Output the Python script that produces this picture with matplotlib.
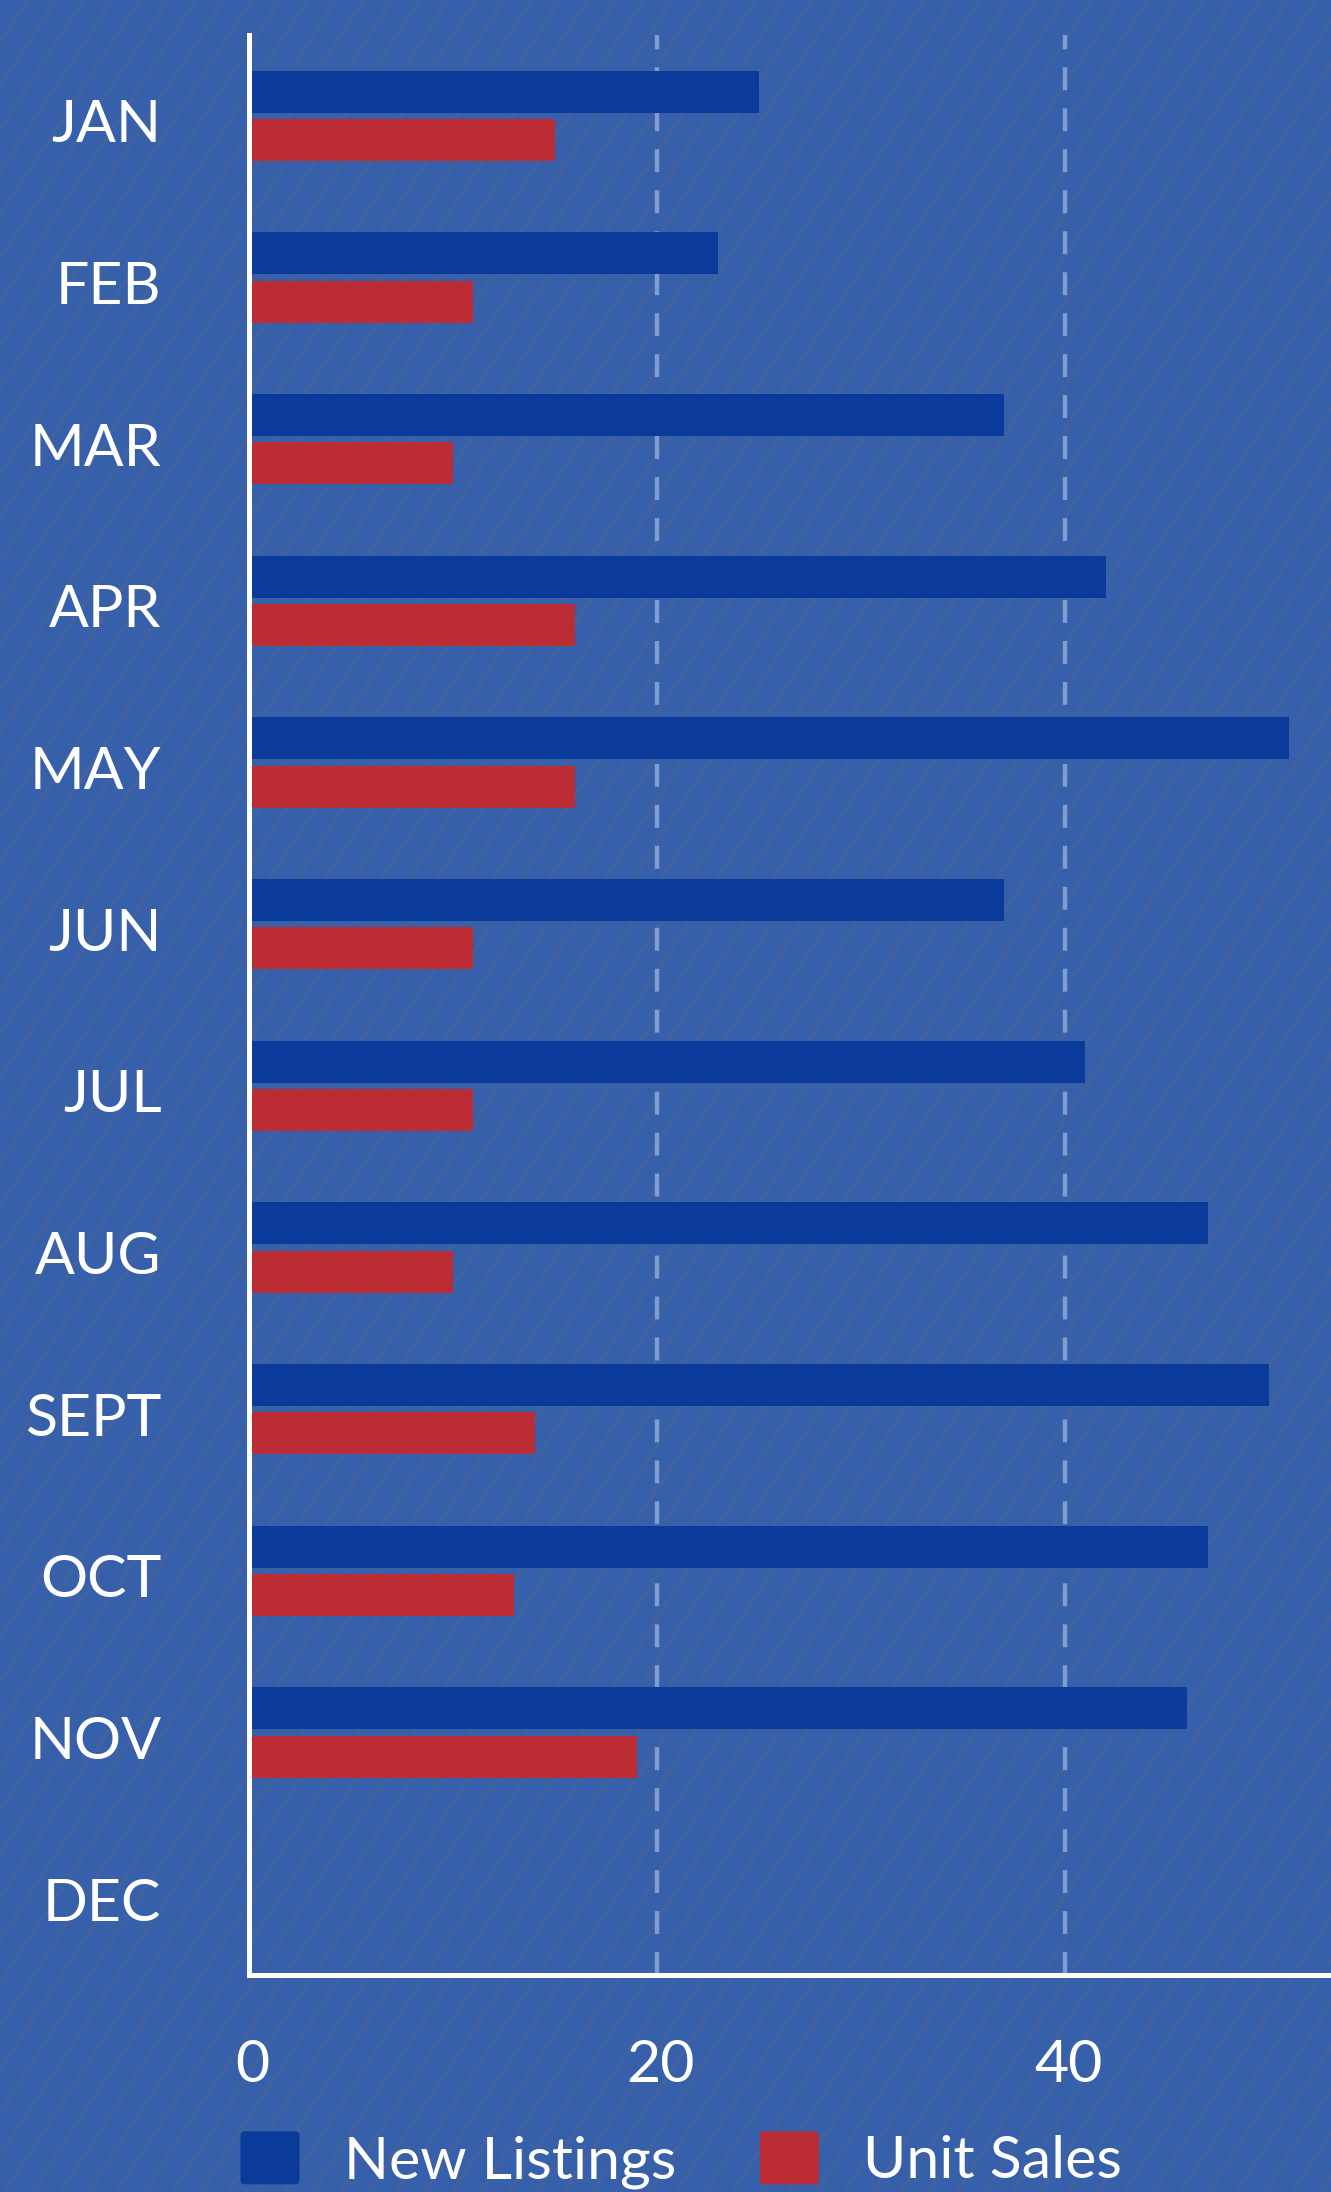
import numpy as np
import matplotlib
matplotlib.use("Agg")
import matplotlib.pyplot as plt
from matplotlib.collections import LineCollection
from matplotlib.patches import FancyBboxPatch, Patch
from matplotlib.legend_handler import HandlerPatch
from matplotlib.transforms import ScaledTranslation

plt.rcParams['font.family'] = ['Lato', 'DejaVu Sans']
plt.rcParams['lines.scale_dashes'] = False

# ---- data ----
months = ["JAN", "FEB", "MAR", "APR", "MAY", "JUN", "JUL", "AUG", "SEPT", "OCT", "NOV", "DEC"]
new_listings = [25, 23, 37, 42, 51, 37, 41, 47, 50, 47, 46, 0]
unit_sales = [15, 11, 10, 16, 16, 11, 11, 10, 14, 13, 19, 0]
x_ticks = [0, 20, 40]
series_names = ["New Listings", "Unit Sales"]

# ---- style ----
BG = '#3660AA'
STRIPE = '#41619F'
BLUE = '#0A3A9A'
RED = '#BC2C35'
GRID = '#7F9DD0'
FS = 42.5

W, H, DPI = 1331, 2192, 100
fig = plt.figure(figsize=(W / DPI, H / DPI), dpi=DPI, facecolor=BG)

# subtle diagonal background texture (decoration)
ang = np.deg2rad(57)
dx = H / np.tan(ang)
offs = np.arange(-dx, W + 28, 28)
segs = [[(o / W, 0.0), ((o + dx) / W, 1.0)] for o in offs]
lc = LineCollection(segs, colors=STRIPE, linewidths=2.8, transform=fig.transFigure, zorder=0)
fig.add_artist(lc)

ax = fig.add_axes([249 / W, 1 - 1975 / H, 1 - 249 / W, (1975 - 35) / H])
ax.set_facecolor('none')

y = np.arange(len(months))
off, bh = 0.149, 0.26
ax.barh(y - off, new_listings, height=bh, color=BLUE, zorder=2)
ax.barh(y + off, unit_sales, height=bh, color=RED, zorder=2)

ax.set_xlim(0, (W - 249) / 20.4)
ax.set_ylim(len(months) - 0.5, -0.5)
ax.set_xticks(x_ticks)
ax.set_yticks(y)
ax.set_yticklabels(months)

ax.set_axisbelow(True)
ax.xaxis.grid(True, color=GRID, linewidth=3.2, linestyle=(0, (16.5, 13.0)))
ax.yaxis.grid(False)

for s in ['top', 'right']:
    ax.spines[s].set_visible(False)
for s in ['left', 'bottom']:
    ax.spines[s].set_color('white')
    ax.spines[s].set_linewidth(3.6)

ax.tick_params(axis='both', length=0, labelcolor='white', labelsize=FS)
ax.tick_params(axis='y', pad=63)
ax.tick_params(axis='x', pad=46)
for lab in ax.get_yticklabels():
    lab.set_transform(lab.get_transform() + ScaledTranslation(0, -5 / DPI, fig.dpi_scale_trans))
for lab in ax.get_xticklabels():
    lab.set_transform(lab.get_transform() + ScaledTranslation(3 / DPI, 0, fig.dpi_scale_trans))


class RoundHandler(HandlerPatch):
    def create_artists(self, legend, orig_handle, xdescent, ydescent, width, height, fontsize, trans):
        p = FancyBboxPatch((-xdescent, -ydescent), width, height,
                           boxstyle="round,pad=0,rounding_size=3",
                           facecolor=orig_handle.get_facecolor(), edgecolor='none', transform=trans)
        return [p]


handles = [Patch(facecolor=BLUE), Patch(facecolor=RED)]
leg = fig.legend(handles, series_names, loc='center left', bbox_to_anchor=(211 / W, 1 - 2160 / H),
                 ncol=2, frameon=False, fontsize=FS, labelcolor='white', borderpad=0,
                 handlelength=1.0, handleheight=1.0, handletextpad=0.75, columnspacing=1.42,
                 handler_map={Patch: RoundHandler()})

fig.savefig('out.png', dpi=DPI, facecolor=BG)
